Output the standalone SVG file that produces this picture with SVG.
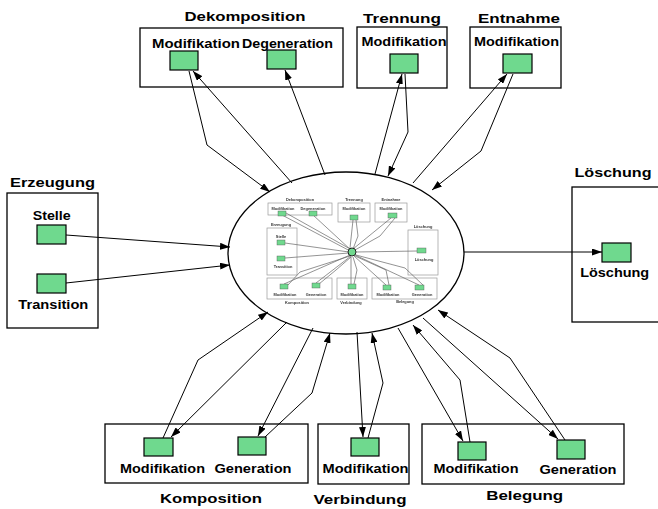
<svg xmlns="http://www.w3.org/2000/svg" width="658" height="509" viewBox="0 0 658 509">
  <style>
    .box { fill: none; stroke: #000; stroke-width: 1.3; }
    .node { fill: #6fd98e; stroke: #000; stroke-width: 1.2; }
    .t { font-family: "Liberation Sans", Arial, sans-serif; font-weight: bold; text-anchor: middle; fill: #000; }
    .title { font-size: 13px; }
    .lab { font-size: 12px; }
    .edge { fill: none; stroke: #000; stroke-width: 1; }
    .mbox { fill: #fff; stroke: #999; stroke-width: 0.7; }
    .mnode { fill: #6fd98e; stroke: #555; stroke-width: 0.4; }
    .mt { font-family: "Liberation Sans", Arial, sans-serif; font-weight: bold; text-anchor: middle; fill: #333; font-size: 3.9px; }
    .medge { fill: none; stroke: #666; stroke-width: 0.7; }
  </style>
  <defs>
    <marker id="arrow" markerUnits="userSpaceOnUse" markerWidth="10" markerHeight="7" refX="10" refY="3.5" orient="auto">
      <path d="M0,0 L10,3.5 L0,7 z" fill="#000"/>
    </marker>
    <filter id="soft" x="-5%" y="-5%" width="110%" height="110%">
      <feGaussianBlur stdDeviation="0.35"/>
    </filter>
  </defs>

  <!-- central component: ellipse with a reduced view of the net -->
  <g id="center">
    <ellipse cx="346" cy="253" rx="118" ry="81" fill="#fff" stroke="#000" stroke-width="1.3"/>
    <g id="center-miniature" filter="url(#soft)">
      <!-- reduced boxes -->
      <rect class="mbox" x="268" y="203" width="64" height="12"/>
      <rect class="mbox" x="338" y="203" width="32" height="19"/>
      <rect class="mbox" x="375" y="203" width="32" height="19"/>
      <rect class="mbox" x="267" y="228" width="30" height="47"/>
      <rect class="mbox" x="408" y="230" width="30" height="45"/>
      <rect class="mbox" x="267" y="278" width="65" height="21"/>
      <rect class="mbox" x="337" y="278" width="30" height="21"/>
      <rect class="mbox" x="372" y="278" width="65" height="21"/>
      <!-- reduced connectors -->
      <path class="medge" d="M282,215 L352,252 M286,213 L352,250"/>
      <path class="medge" d="M313,215 L352,251"/>
      <path class="medge" d="M353,220 L350,248 M356,220 L358,236 L353,249"/>
      <path class="medge" d="M391,218 L353,249 M395,218 L380,236 L355,250"/>
      <path class="medge" d="M285,243 L349,252"/>
      <path class="medge" d="M285,258 L349,253"/>
      <path class="medge" d="M356,252 L417,251"/>
      <path class="medge" d="M284,284 L350,255 M288,285 L300,272 L350,256"/>
      <path class="medge" d="M316,283 L351,256 M319,284 L336,270 L351,257"/>
      <path class="medge" d="M351,284 L351,257 M354,284 L357,270 L353,257"/>
      <path class="medge" d="M386,285 L354,256 M389,285 L386,270 L355,256"/>
      <path class="medge" d="M419,285 L355,255 M423,285 L405,268 L356,255"/>
      <!-- reduced nodes -->
      <rect class="mnode" x="278" y="211" width="8" height="5"/>
      <rect class="mnode" x="309" y="211" width="8" height="5"/>
      <rect class="mnode" x="350" y="215" width="8" height="5"/>
      <rect class="mnode" x="388" y="213" width="9" height="5"/>
      <rect class="mnode" x="277" y="240" width="8" height="5"/>
      <rect class="mnode" x="277" y="256" width="8" height="5"/>
      <rect class="mnode" x="417" y="248" width="9" height="5"/>
      <rect class="mnode" x="280" y="284" width="8" height="5"/>
      <rect class="mnode" x="312" y="283" width="8" height="5"/>
      <rect class="mnode" x="348" y="284" width="8" height="5"/>
      <rect class="mnode" x="383" y="285" width="8" height="5"/>
      <rect class="mnode" x="415" y="285" width="9" height="5"/>
      <ellipse cx="352" cy="252" rx="4" ry="4" fill="#6fd98e" stroke="#222" stroke-width="1"/>
      <!-- reduced labels -->
      <text class="mt" x="300" y="201">Dekomposition</text>
      <text class="mt" x="283" y="209.5">Modifikation</text>
      <text class="mt" x="313" y="209.5">Degeneration</text>
      <text class="mt" x="354" y="201">Trennung</text>
      <text class="mt" x="354" y="210">Modifikation</text>
      <text class="mt" x="391" y="201">Entnahme</text>
      <text class="mt" x="391" y="210">Modifikation</text>
      <text class="mt" x="281" y="226">Erzeugung</text>
      <text class="mt" x="281" y="238">Stelle</text>
      <text class="mt" x="283" y="268">Transition</text>
      <text class="mt" x="423" y="228">Löschung</text>
      <text class="mt" x="424" y="261">Löschung</text>
      <text class="mt" x="285" y="296">Modifikation</text>
      <text class="mt" x="316" y="296">Generation</text>
      <text class="mt" x="352" y="296">Modifikation</text>
      <text class="mt" x="388" y="296">Modifikation</text>
      <text class="mt" x="422" y="296">Generation</text>
      <text class="mt" x="297" y="304">Komposition</text>
      <text class="mt" x="351" y="304">Verbindung</text>
      <text class="mt" x="405" y="303">Belegung</text>
    </g>
  </g>

  <g id="dekomposition">
    <text class="t title" x="245" y="21" textLength="121" lengthAdjust="spacingAndGlyphs">Dekomposition</text>
    <rect class="box" x="140" y="28" width="203" height="59"/>
    <text class="t lab" x="196" y="48" textLength="88" lengthAdjust="spacingAndGlyphs">Modifikation</text>
    <text class="t lab" x="287.5" y="48" textLength="91" lengthAdjust="spacingAndGlyphs">Degeneration</text>
    <rect class="node" x="170" y="51" width="28" height="19"/>
    <rect class="node" x="267" y="50" width="29" height="19"/>
  </g>

  <g id="trennung">
    <text class="t title" x="402" y="23" textLength="78" lengthAdjust="spacingAndGlyphs">Trennung</text>
    <rect class="box" x="357" y="27" width="90" height="61"/>
    <text class="t lab" x="404" y="46" textLength="85" lengthAdjust="spacingAndGlyphs">Modifikation</text>
    <rect class="node" x="390" y="54" width="28" height="19"/>
  </g>

  <g id="entnahme">
    <text class="t title" x="519" y="23" textLength="82" lengthAdjust="spacingAndGlyphs">Entnahme</text>
    <rect class="box" x="470" y="27" width="91" height="61"/>
    <text class="t lab" x="516.5" y="46" textLength="85" lengthAdjust="spacingAndGlyphs">Modifikation</text>
    <rect class="node" x="503" y="54" width="29" height="19"/>
  </g>

  <g id="erzeugung">
    <text class="t title" x="52.5" y="187" textLength="85" lengthAdjust="spacingAndGlyphs">Erzeugung</text>
    <rect class="box" x="7" y="193" width="91" height="135"/>
    <text class="t lab" x="51.7" y="220" textLength="38" lengthAdjust="spacingAndGlyphs">Stelle</text>
    <rect class="node" x="37" y="225" width="29" height="19"/>
    <rect class="node" x="37" y="274" width="29" height="19"/>
    <text class="t lab" x="53.3" y="309" textLength="70" lengthAdjust="spacingAndGlyphs">Transition</text>
  </g>

  <g id="loeschung">
    <text class="t title" x="613" y="177" textLength="77" lengthAdjust="spacingAndGlyphs">Löschung</text>
    <rect class="box" x="572" y="187" width="100" height="135"/>
    <rect class="node" x="602" y="243" width="29" height="19"/>
    <text class="t lab" x="614.7" y="277" textLength="69" lengthAdjust="spacingAndGlyphs">Löschung</text>
  </g>

  <g id="komposition">
    <rect class="box" x="105" y="424" width="203" height="59"/>
    <rect class="node" x="144" y="438" width="29" height="18"/>
    <rect class="node" x="238" y="437" width="28" height="18"/>
    <text class="t lab" x="162.5" y="473" textLength="85" lengthAdjust="spacingAndGlyphs">Modifikation</text>
    <text class="t lab" x="253" y="473" textLength="77" lengthAdjust="spacingAndGlyphs">Generation</text>
    <text class="t title" x="211" y="503" textLength="102" lengthAdjust="spacingAndGlyphs">Komposition</text>
  </g>

  <g id="verbindung">
    <rect class="box" x="318" y="424" width="91" height="60"/>
    <rect class="node" x="351" y="438" width="28" height="18"/>
    <text class="t lab" x="365.5" y="473" textLength="86" lengthAdjust="spacingAndGlyphs">Modifikation</text>
    <text class="t title" x="360" y="504" textLength="93" lengthAdjust="spacingAndGlyphs">Verbindung</text>
  </g>

  <g id="belegung">
    <rect class="box" x="422" y="424" width="202" height="60"/>
    <rect class="node" x="458" y="442" width="28" height="18"/>
    <rect class="node" x="557" y="440" width="28" height="19"/>
    <text class="t lab" x="476" y="473" textLength="85" lengthAdjust="spacingAndGlyphs">Modifikation</text>
    <text class="t lab" x="578" y="474" textLength="77" lengthAdjust="spacingAndGlyphs">Generation</text>
    <text class="t title" x="524.7" y="500" textLength="77" lengthAdjust="spacingAndGlyphs">Belegung</text>
  </g>

  <!-- connectors, drawn last so arrow tips sit on top of the nodes -->
  <g id="connectors">
    <path class="edge" d="M189,71 L207,145 L270,192" marker-end="url(#arrow)"/>
    <path class="edge" d="M292,183 L193,71" marker-end="url(#arrow)"/>
    <path class="edge" d="M325,175 L285,70" marker-end="url(#arrow)"/>
    <path class="edge" d="M375,174 L402,74" marker-end="url(#arrow)"/>
    <path class="edge" d="M405,74 L408,132 L388,176" marker-end="url(#arrow)"/>
    <path class="edge" d="M413,183 L507,74" marker-end="url(#arrow)"/>
    <path class="edge" d="M513,74 L481,151 L432,190" marker-end="url(#arrow)"/>
    <path class="edge" d="M66,235 L230,247" marker-end="url(#arrow)"/>
    <path class="edge" d="M66,283 L230,265" marker-end="url(#arrow)"/>
    <path class="edge" d="M464,252 L602,252" marker-end="url(#arrow)"/>
    <path class="edge" d="M163,438 L198,360 L268,312" marker-end="url(#arrow)"/>
    <path class="edge" d="M287,322 L171,437" marker-end="url(#arrow)"/>
    <path class="edge" d="M313,328 L258,436" marker-end="url(#arrow)"/>
    <path class="edge" d="M265,437 L312,393 L330,333" marker-end="url(#arrow)"/>
    <path class="edge" d="M357,332 L363,437" marker-end="url(#arrow)"/>
    <path class="edge" d="M368,438 L383,383 L372,333" marker-end="url(#arrow)"/>
    <path class="edge" d="M398,328 L463,441" marker-end="url(#arrow)"/>
    <path class="edge" d="M470,442 L460,380 L413,325" marker-end="url(#arrow)"/>
    <path class="edge" d="M423,318 L558,439" marker-end="url(#arrow)"/>
    <path class="edge" d="M565,440 L510,358 L438,310" marker-end="url(#arrow)"/>
  </g>
</svg>
